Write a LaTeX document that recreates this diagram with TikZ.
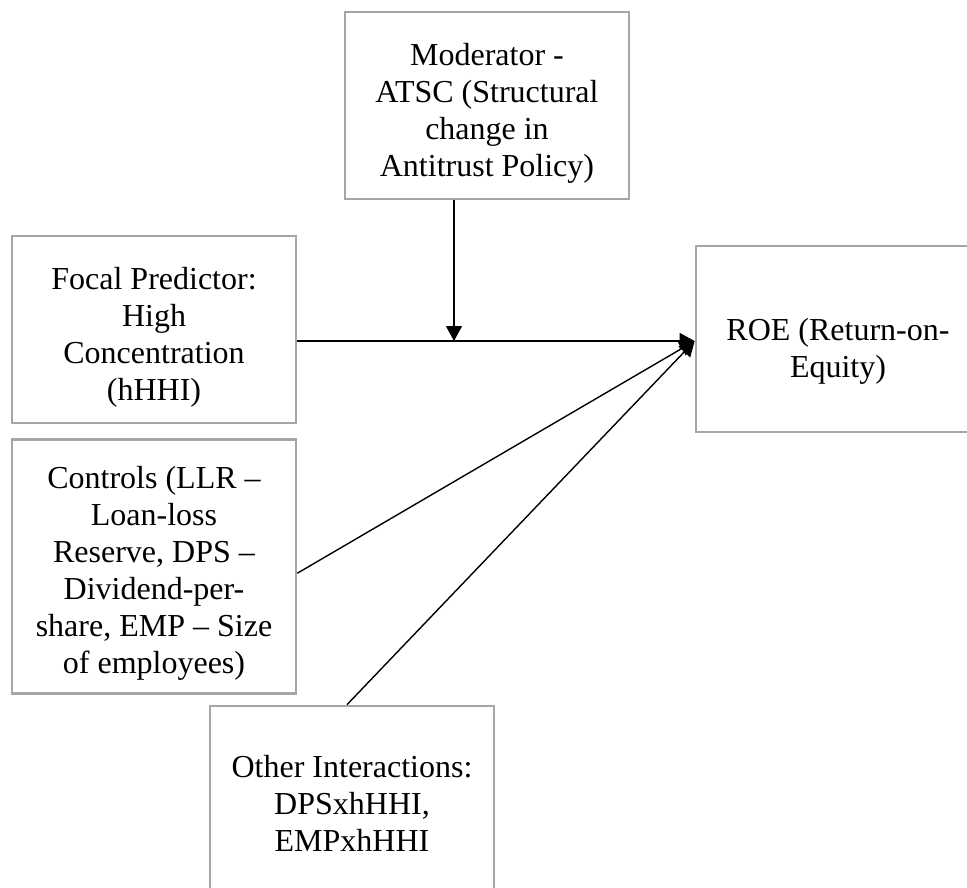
\documentclass[tikz,border=0pt]{standalone}
\usepackage{fontspec}
\setmainfont{Liberation Serif}
\usetikzlibrary{positioning,arrows.meta}
\definecolor{bordgris}{RGB}{166,166,166}
\newcommand{\haut}{\rule{0pt}{37pt}}
\tikzstyle{boite}=[rectangle,draw=bordgris,line width=2.7pt,minimum width=284pt,inner sep=0pt,align=center,font=\fontsize{32}{37}\selectfont]
\tikzstyle{fleche}=[line width=1.4pt,-{Triangle[length=15pt,width=16pt]}]

\begin{document}
\begin{tikzpicture}[x=1pt,y=-1pt]
\clip (0,0) rectangle (967,887);

\node[boite,minimum height=187pt] (Moder) at (487,105.5) {\haut Moderator -\\ATSC (Structural\\change in\\Antitrust Policy)};
\node[boite,minimum height=187pt] (Focal) at (154,329.5) {\haut Focal Predictor:\\High\\Concentration\\(hHHI)};
\node[boite,minimum height=254pt] (Contr) [below=13.5pt of Focal] {\haut Controls (LLR –\\Loan-loss\\Reserve, DPS –\\Dividend-per-\\share, EMP – Size\\of employees)};
\node[boite,minimum height=186pt] (Roe) at (838,339) {\rule{0pt}{46pt}ROE (Return-on-\\Equity)};
\node[boite,minimum height=194pt] (Autres) at (352,803) {Other Interactions:\\DPSxhHHI,\\EMPxhHHI};

\coordinate (Bout) at ([yshift=-2pt]Roe.west);
\draw[fleche] (Focal.east |- Bout) -- (Bout);
\draw[fleche] ([yshift=-7pt]Contr.east) -- (Bout);
\draw[fleche] ([xshift=-5pt]Autres.north) -- (Bout);
\draw[fleche] ([xshift=-33pt]Moder.south) -- ([xshift=-33pt]Moder.south |- Bout);

\end{tikzpicture}
\end{document}
